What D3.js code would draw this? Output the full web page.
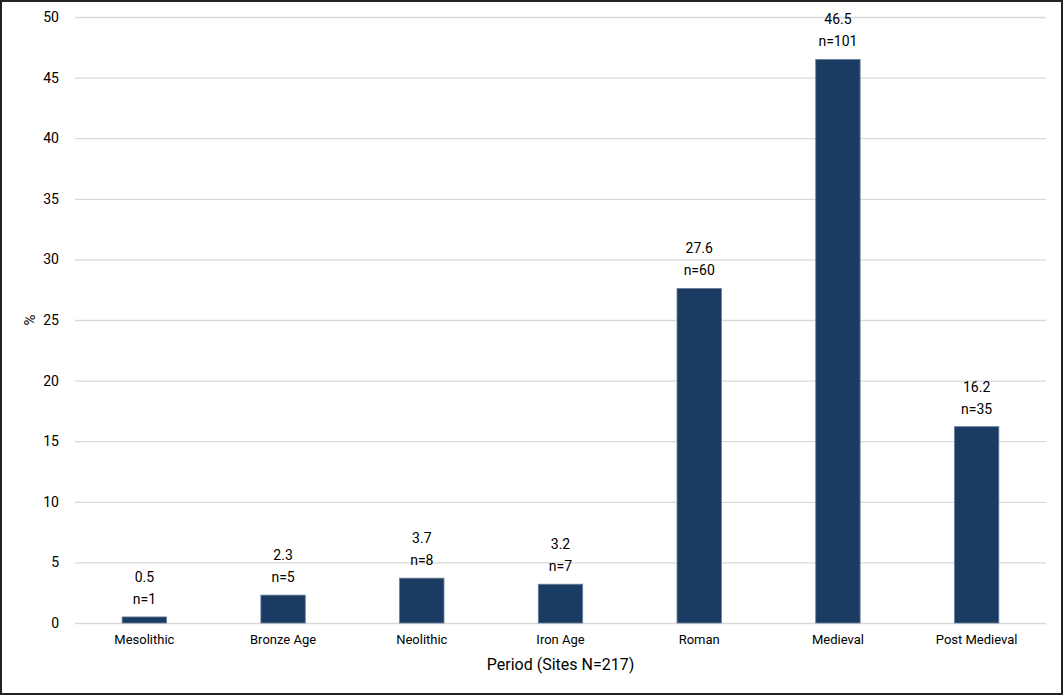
<!DOCTYPE html>
<html>
<head>
<meta charset="utf-8">
<script src="https://cdn.jsdelivr.net/npm/d3@7"></script>
<style>
  body { margin: 0; background: #fff; }
  text { font-family: Roboto, "Noto Sans", sans-serif; fill: #000; }
</style>
</head>
<body>
<div id="chart"></div>
<script>
var periods = ["Mesolithic", "Bronze Age", "Neolithic", "Iron Age", "Roman", "Medieval", "Post Medieval"];
var percents = [0.5, 2.3, 3.7, 3.2, 27.6, 46.5, 16.2];
var counts = [1, 5, 8, 7, 60, 101, 35];
var yTicks = [0, 5, 10, 15, 20, 25, 30, 35, 40, 45, 50];

var width = 1063, height = 695;
var margin = { top: 17, right: 17, bottom: 72, left: 75 };

var svg = d3.select("#chart").append("svg")
    .attr("width", width)
    .attr("height", height);

// frame round the whole picture
svg.append("rect")
    .attr("x", 1).attr("y", 1)
    .attr("width", width - 2).attr("height", height - 2)
    .attr("fill", "none")
    .attr("stroke", "#222")
    .attr("stroke-width", 2);

var x = d3.scaleBand().domain(periods)
    .range([margin.left, width - margin.right])
    .paddingInner(0.68).paddingOuter(0.34);
var y = d3.scaleLinear().domain([0, 50]).range([height - margin.bottom, margin.top]);

// gridlines + y labels
var yAxis = svg.append("g")
    .attr("transform", `translate(${margin.left},0)`)
    .call(d3.axisLeft(y).tickValues(yTicks)
        .tickSize(-(width - margin.left - margin.right))
        .tickPadding(16));
yAxis.select(".domain").remove();
yAxis.selectAll(".tick line").attr("stroke", "#d9d9d9").attr("stroke-width", 1.3);
yAxis.selectAll(".tick text").attr("font-size", 14).style("font-family", "Roboto, sans-serif");

// bars
svg.append("g").selectAll("rect")
    .data(periods)
    .enter().append("rect")
    .attr("x", d => x(d))
    .attr("y", (d, i) => y(percents[i]))
    .attr("width", x.bandwidth())
    .attr("height", (d, i) => y(0) - y(percents[i]))
    .attr("fill", "#1a3c62")
    .attr("stroke", "#6a7c98")
    .attr("stroke-width", 0.8);

// data labels
var labels = svg.append("g").selectAll("g")
    .data(periods)
    .enter().append("g")
    .attr("transform", (d, i) => `translate(${x(d) + x.bandwidth() / 2}, ${y(percents[i])})`);
labels.append("text")
    .attr("y", -35)
    .attr("text-anchor", "middle")
    .attr("font-size", 14)
    .text((d, i) => percents[i].toFixed(1));
labels.append("text")
    .attr("y", -13)
    .attr("text-anchor", "middle")
    .attr("font-size", 14)
    .text((d, i) => "n=" + counts[i]);

// x axis labels
var xAxis = svg.append("g")
    .attr("transform", `translate(0,${height - margin.bottom})`)
    .call(d3.axisBottom(x).tickSize(0).tickPadding(12));
xAxis.select(".domain").remove();
xAxis.selectAll(".tick text").attr("font-size", 13).style("font-family", "Roboto, sans-serif");

// axis titles
svg.append("text")
    .attr("x", (margin.left + width - margin.right) / 2)
    .attr("y", 670)
    .attr("text-anchor", "middle")
    .attr("font-size", 16)
    .text("Period (Sites N=217)");
svg.append("text")
    .attr("transform", `translate(35, ${(margin.top + height - margin.bottom) / 2}) rotate(-90)`)
    .attr("text-anchor", "middle")
    .attr("font-size", 15)
    .text("%");
</script>
</body>
</html>
